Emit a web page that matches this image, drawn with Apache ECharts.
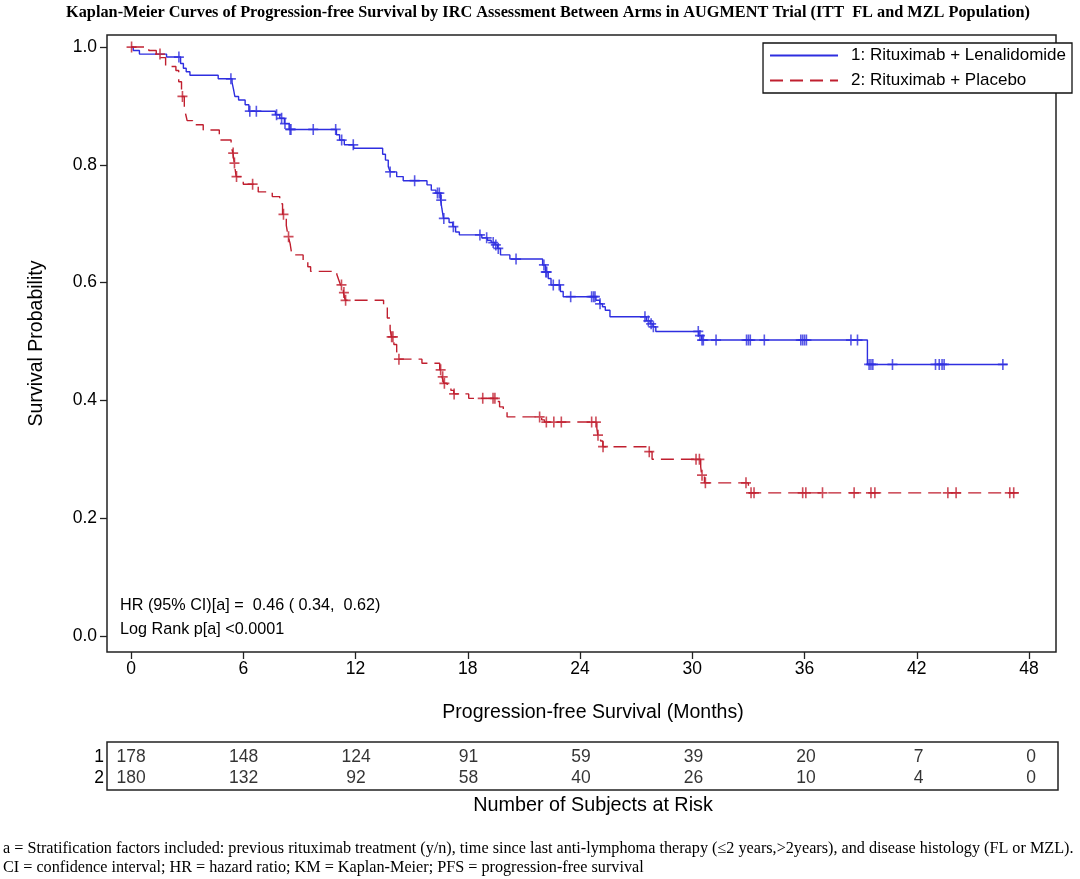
<!DOCTYPE html>
<html><head><meta charset="utf-8">
<script src="https://cdn.jsdelivr.net/npm/echarts@6/dist/echarts.min.js"></script>
<style>html,body{margin:0;padding:0;background:#fff}#c{width:1080px;height:879px}</style>
</head><body><div id="c"></div>
<script>
// ---------- data ----------
const xTicks = [0, 6, 12, 18, 24, 30, 36, 42, 48];
const yTicks = [0, 0.2, 0.4, 0.6, 0.8, 1.0];
const arm1Name = '1: Rituximab + Lenalidomide';
const arm2Name = '2: Rituximab + Placebo';

const arm1StepTimes = [0,0.12,0.45,1.9,2.65,2.8,2.95,3.15,4.66,5.40,5.48,5.55,5.75,6.10,6.30,7.72,7.95,8.2,8.45,10.98,11.15,11.4,11.9,13.45,13.6,13.75,13.85,14.2,14.55,15.82,16.05,16.3,16.55,16.62,16.7,17.0,17.2,17.35,17.55,18.75,19.05,19.25,19.45,19.6,19.75,20.25,22.0,22.15,22.3,22.45,22.95,23.1,24.85,25.05,25.2,25.35,25.6,27.55,27.75,27.9,28.05,30.35,30.5,39.36];
const arm1StepSurv  = [1.0,0.994,0.988,0.983,0.972,0.964,0.958,0.952,0.946,0.940,0.928,0.916,0.910,0.902,0.891,0.885,0.879,0.870,0.860,0.851,0.842,0.834,0.828,0.818,0.808,0.797,0.788,0.780,0.773,0.766,0.757,0.752,0.740,0.725,0.709,0.702,0.695,0.686,0.681,0.676,0.672,0.668,0.664,0.658,0.647,0.640,0.630,0.618,0.607,0.596,0.585,0.576,0.570,0.564,0.559,0.553,0.542,0.535,0.530,0.525,0.517,0.510,0.5025,0.461];
const arm1LastTime = 46.84;
const arm1CensorTimes = [2.56,5.34,6.35,6.7,7.78,8.05,8.23,8.5,8.55,9.74,10.94,11.26,11.88,13.85,15.16,16.38,16.48,16.58,16.72,17.23,18.65,19.01,19.36,19.5,19.63,20.58,22.07,22.17,22.22,22.57,22.89,23.5,24.62,24.72,24.8,25.07,27.47,27.65,27.8,27.92,30.32,30.41,30.52,30.59,31.27,32.9,33.0,33.1,33.85,35.8,35.9,36.0,36.1,38.48,38.83,39.45,39.55,39.65,40.7,43.0,43.2,43.35,43.46,46.6];

const arm2StepTimes = [0,0.95,1.35,1.6,1.85,2.4,2.55,2.7,2.85,2.95,3.0,3.3,3.86,4.72,5.35,5.45,5.52,5.62,6.0,6.8,7.55,7.95,8.1,8.3,8.4,8.5,8.6,9.2,9.45,9.6,11.0,11.1,11.2,11.35,11.45,13.5,13.7,13.85,13.92,14.05,14.2,14.3,15.55,16.5,16.62,16.72,16.9,17.1,17.25,18.05,19.5,19.7,19.9,20.1,21.95,22.1,24.9,24.95,25.1,25.22,27.65,27.85,30.45,30.5,30.65,33.0];
const arm2StepSurv  = [1.0,0.994,0.988,0.982,0.967,0.960,0.941,0.916,0.896,0.882,0.875,0.868,0.859,0.842,0.831,0.820,0.803,0.780,0.767,0.754,0.746,0.734,0.716,0.697,0.678,0.667,0.647,0.636,0.627,0.619,0.614,0.605,0.596,0.583,0.570,0.562,0.540,0.520,0.508,0.495,0.483,0.470,0.463,0.452,0.440,0.429,0.423,0.417,0.411,0.4035,0.398,0.389,0.380,0.372,0.367,0.3633,0.352,0.341,0.331,0.3214,0.313,0.300,0.287,0.273,0.260,0.243];
const arm2LastTime = 47.45;
const arm2CensorTimes = [0.03,1.55,2.75,5.46,5.53,5.64,6.5,8.15,8.42,11.25,11.38,11.47,13.93,14.0,14.32,16.55,16.66,16.75,17.27,18.8,19.35,19.45,21.84,22.2,22.6,23.0,24.62,24.85,24.96,25.23,27.7,30.2,30.38,30.52,30.7,32.87,33.14,33.3,35.9,36.07,36.96,38.65,39.55,39.76,43.66,44.1,46.97,47.18];

const riskTimes = [0, 6, 12, 18, 24, 30, 36, 42, 48];
const riskArm1 = [178, 148, 124, 91, 59, 39, 20, 7, 0];
const riskArm2 = [180, 132, 92, 58, 40, 26, 10, 4, 0];

const hrText = 'HR (95% CI)[a] =  0.46 ( 0.34,  0.62)';
const pText = 'Log Rank p[a] <0.0001';
const titleText = 'Kaplan-Meier Curves of Progression-free Survival by IRC Assessment Between Arms in AUGMENT Trial (ITT  FL and MZL Population)';
const xTitle = 'Progression-free Survival (Months)';
const yTitle = 'Survival Probability';
const riskTitle = 'Number of Subjects at Risk';
const foot1 = 'a = Stratification factors included: previous rituximab treatment (y/n), time since last anti-lymphoma therapy (\u22642 years,>2years), and disease histology (FL or MZL).';
const foot2 = 'CI = confidence interval; HR = hazard ratio; KM = Kaplan-Meier; PFS = progression-free survival';

// ---------- helpers ----------
function stepLine(times, surv, last) {
  const d = times.map((t, i) => [t, surv[i]]);
  d.push([last, surv[surv.length - 1]]);
  return d;
}
function survAt(times, surv, t) {
  let s = surv[0];
  for (let i = 0; i < times.length; i++) { if (times[i] <= t + 1e-9) s = surv[i]; }
  return s;
}
const BLUE = '#2e2ee0', RED = '#c01f2f';
const SANS = '"Liberation Sans", Arial, Helvetica, sans-serif';
const SERIF = '"Liberation Serif", "Times New Roman", serif';
const PLUS = 'path://M-1.6,-10L1.6,-10L1.6,-1.6L10,-1.6L10,1.6L1.6,1.6L1.6,10L-1.6,10L-1.6,1.6L-10,1.6L-10,-1.6L-1.6,-1.6Z';

const XMIN = -1.283, XMAX = 49.44;
const YMIN = -0.0272, YMAX = 1.0204;
const LBL = 17.5;

const chart = echarts.init(document.getElementById('c'), null, {renderer: 'canvas'});
const option = {
  animation: false,
  backgroundColor: '#fff',
  grid: [
    {left: 107, right: 24, top: 35, bottom: 227, show: true, borderColor: '#222', borderWidth: 1.5, backgroundColor: 'transparent'},
    {left: 107, right: 22, top: 742, height: 48, show: true, borderColor: '#222', borderWidth: 1.5, backgroundColor: 'transparent'}
  ],
  xAxis: [
    {type: 'value', gridIndex: 0, min: XMIN, max: XMAX,
     axisLine: {show: false, onZero: false},
     axisTick: {show: true, length: 7, lineStyle: {color: '#222', width: 1.3}, customValues: xTicks},
     axisLabel: {color: '#000', fontSize: LBL, fontFamily: SANS, margin: 8, customValues: xTicks},
     splitLine: {show: false}},
    {type: 'value', gridIndex: 1, min: XMIN, max: XMAX,
     axisLine: {show: false}, axisTick: {show: false}, axisLabel: {show: false}, splitLine: {show: false}}
  ],
  yAxis: [
    {type: 'value', gridIndex: 0, min: YMIN, max: YMAX,
     axisLine: {show: false, onZero: false},
     axisTick: {show: true, length: 7, lineStyle: {color: '#222', width: 1.3}, customValues: yTicks},
     axisLabel: {color: '#000', fontSize: LBL, fontFamily: SANS, margin: 10, customValues: yTicks, formatter: v => v.toFixed(1)},
     splitLine: {show: false},
     name: yTitle, nameLocation: 'middle', nameGap: 60, nameRotate: 90,
     nameTextStyle: {color: '#000', fontSize: 19.5, fontFamily: SANS}},
    {type: 'value', gridIndex: 1, min: 0.4286, max: 2.714,
     axisLine: {show: false}, axisTick: {show: false}, splitLine: {show: false},
     axisLabel: {color: '#000', fontSize: LBL, fontFamily: SANS, margin: 3, customValues: [1, 2], formatter: v => (v === 2 ? '1' : '2')}}
  ],
  legend: {
    orient: 'vertical', right: 8, top: 43, itemWidth: 68, itemHeight: 14, itemGap: 8,
    padding: [4, 6, 4, 6], borderColor: '#111', borderWidth: 1.3, backgroundColor: '#fff',
    itemStyle: {opacity: 0},
    textStyle: {color: '#000', fontSize: 17, fontFamily: SANS, padding: [0, 0, 0, 8]},
    data: [arm1Name, arm2Name]
  },
  series: [
    {name: arm1Name, type: 'line', xAxisIndex: 0, yAxisIndex: 0, step: 'end', symbol: 'none',
     data: stepLine(arm1StepTimes, arm1StepSurv, arm1LastTime),
     lineStyle: {color: BLUE, width: 1.4}, itemStyle: {color: BLUE}, z: 3},
    {name: arm2Name, type: 'line', xAxisIndex: 0, yAxisIndex: 0, step: 'end', symbol: 'none',
     data: stepLine(arm2StepTimes, arm2StepSurv, arm2LastTime),
     lineStyle: {color: RED, width: 1.4, type: [13, 7]}, itemStyle: {color: RED}, z: 3},
    {name: 'cens1', type: 'scatter', xAxisIndex: 0, yAxisIndex: 0, symbol: PLUS, symbolSize: [10, 11],
     data: arm1CensorTimes.map(t => [t, survAt(arm1StepTimes, arm1StepSurv, t)]),
     itemStyle: {color: BLUE}, z: 4, silent: true},
    {name: 'cens2', type: 'scatter', xAxisIndex: 0, yAxisIndex: 0, symbol: PLUS, symbolSize: [10, 11],
     data: arm2CensorTimes.map(t => [t, survAt(arm2StepTimes, arm2StepSurv, t)]),
     itemStyle: {color: RED}, z: 4, silent: true},
    {name: 'risk1', type: 'scatter', xAxisIndex: 1, yAxisIndex: 1, symbolSize: 1,
     itemStyle: {color: 'transparent'},
     data: riskTimes.map((t, i) => [t, 2, riskArm1[i]]),
     label: {show: true, position: 'inside', color: '#000', fontSize: LBL, fontFamily: SANS, formatter: p => String(p.data[2])}},
    {name: 'risk2', type: 'scatter', xAxisIndex: 1, yAxisIndex: 1, symbolSize: 1,
     itemStyle: {color: 'transparent'},
     data: riskTimes.map((t, i) => [t, 1, riskArm2[i]]),
     label: {show: true, position: 'inside', color: '#000', fontSize: LBL, fontFamily: SANS, formatter: p => String(p.data[2])}}
  ],
  graphic: [
    {type: 'text', x: 548, y: 13, style: {text: titleText, font: 'bold 16.3px ' + SERIF, fill: '#000', textAlign: 'center', textVerticalAlign: 'middle', align: 'center', verticalAlign: 'middle'}},
    {type: 'text', x: 593, y: 713, style: {text: xTitle, font: '19.5px ' + SANS, fill: '#000', textAlign: 'center', textVerticalAlign: 'middle', align: 'center', verticalAlign: 'middle'}},
    {type: 'text', x: 593, y: 806, style: {text: riskTitle, font: '19.8px ' + SANS, fill: '#000', textAlign: 'center', textVerticalAlign: 'middle', align: 'center', verticalAlign: 'middle'}},
    {type: 'text', x: 120, y: 606, style: {text: hrText, font: '16.2px ' + SANS, fill: '#000', textVerticalAlign: 'middle', verticalAlign: 'middle'}},
    {type: 'text', x: 120, y: 630, style: {text: pText, font: '16.2px ' + SANS, fill: '#000', textVerticalAlign: 'middle', verticalAlign: 'middle'}},
    {type: 'text', x: 3, y: 849, style: {text: foot1, font: '16.2px ' + SERIF, fill: '#000', textVerticalAlign: 'middle', verticalAlign: 'middle'}},
    {type: 'text', x: 3, y: 868, style: {text: foot2, font: '16.2px ' + SERIF, fill: '#000', textVerticalAlign: 'middle', verticalAlign: 'middle'}}
  ]
};
chart.setOption(option);
</script>
</body></html>
